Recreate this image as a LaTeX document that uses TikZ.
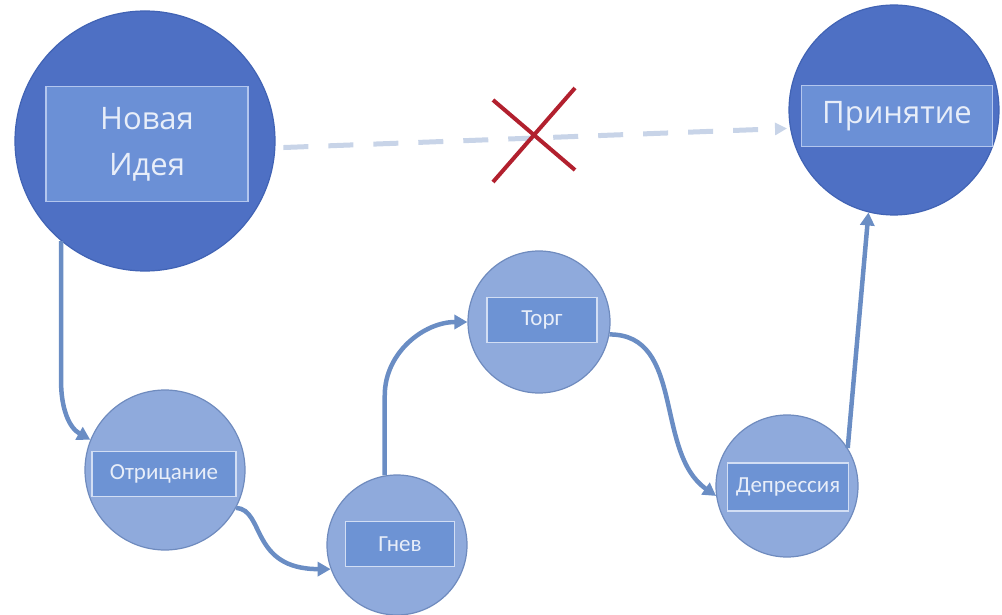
\documentclass[tikz,border=0pt]{standalone}
\usepackage{fontspec}
\setmainfont{Open Sans}
\newfontfamily\stagefont{Carlito}
\usepackage{tikz}
\usetikzlibrary{arrows.meta, positioning}

\definecolor{bigfill}{HTML}{4E70C4}
\definecolor{bigedge}{HTML}{4163B4}
\definecolor{bigbox}{HTML}{6B90D6}
\definecolor{bigboxedge}{HTML}{B3C6EE}
\definecolor{smallfill}{HTML}{8FAADC}
\definecolor{smalledge}{HTML}{6F8BBE}
\definecolor{smallbox}{HTML}{6D93D4}
\definecolor{smallboxedge}{HTML}{D2DEF4}
\definecolor{labeltext}{HTML}{E8EEF9}
\definecolor{flowblue}{HTML}{6A8DC4}
\definecolor{dashblue}{HTML}{C8D4E8}
\definecolor{crossred}{HTML}{B2202E}

\begin{document}
\begin{tikzpicture}[x=1pt, y=1pt,
    bigstate/.style={shape=circle, draw=bigedge, line width=1.2pt, fill=bigfill, inner sep=0pt, minimum size=#1},
    stage/.style={shape=circle, draw=smalledge, line width=1.2pt, fill=smallfill, inner sep=0pt, minimum size=#1},
    bigtag/.style={draw=bigboxedge, line width=1.8pt, fill=bigbox, text=labeltext, align=center, inner sep=0pt,
        font=\fontsize{31}{46}\selectfont},
    stagetag/.style={draw=smallboxedge, line width=1.8pt, fill=smallbox, text=labeltext, inner sep=0pt,
        font=\stagefont\fontsize{23}{26}\selectfont},
    flow/.style={draw=flowblue, line width=4.5pt, -{Triangle[length=13pt, width=14pt]}},
    wish/.style={draw=dashblue, line width=5pt, dash pattern=on 25pt off 20pt, -{Triangle[length=12pt, width=12pt]}},
    crossline/.style={draw=crossred, line width=4pt}]
    \useasboundingbox (0,0) rectangle (1002,614);

    % states
    \node[bigstate=260pt] (idea)    at (145,473) {};
    \node[bigstate=210pt] (accept)  at (894,504) {};
    \node[stage=160pt]    (deny)    at (165,144) {};
    \node[stage=140pt]    (anger)   at (397,69)  {};
    \node[stage=142pt]    (bargain) at (539,292) {};
    \node[stage=142pt]    (depr)    at (787,128) {};

    % labels
    \node[bigtag, minimum width=202pt, minimum height=115pt]   (ideatag)    at (147,470) {Новая\\Идея};
    \node[bigtag, minimum width=191pt, minimum height=61pt]    (accepttag)  at (897,498) {Принятие};
    \node[stagetag, minimum width=144pt, minimum height=45pt]  (denytag)    at (164,140) {Отрицание};
    \node[stagetag, minimum width=109pt, minimum height=45pt]  (angertag)   at (400,70)  {Гнев};
    \node[stagetag, minimum width=110pt, minimum height=45pt]  (bargaintag) at (542,294) {Торг};
    \node[stagetag, minimum width=121pt, minimum height=48pt]  (deprtag)    at (788,127) {Депрессия};

    % the short way that does not work
    \draw[wish, shorten <=8pt, shorten >=3pt] (idea.-3) -- (accept.190);
    \coordinate (cross) at (534,479);
    \draw[crossline] (cross) ++(-41,35) -- ++(82,-70);
    \draw[crossline] (cross) ++(41,47) -- ++(-82,-94);

    % the five stages
    \draw[flow] (idea.230) -- ++(0,-140) to[out=-90, in=150] (deny.158);
    \draw[flow] (deny.-28) .. controls (265,104) and (250,45) .. (anger.200);
    \draw[flow] (anger.100) -- ++(0,80) to[out=90, in=180] (bargain.west);
    \draw[flow] (bargain.-10) to[out=0, in=145] (depr.188);
    \draw[flow] (depr.32) to[out=85, in=-95] (accept.256);
\end{tikzpicture}
\end{document}
